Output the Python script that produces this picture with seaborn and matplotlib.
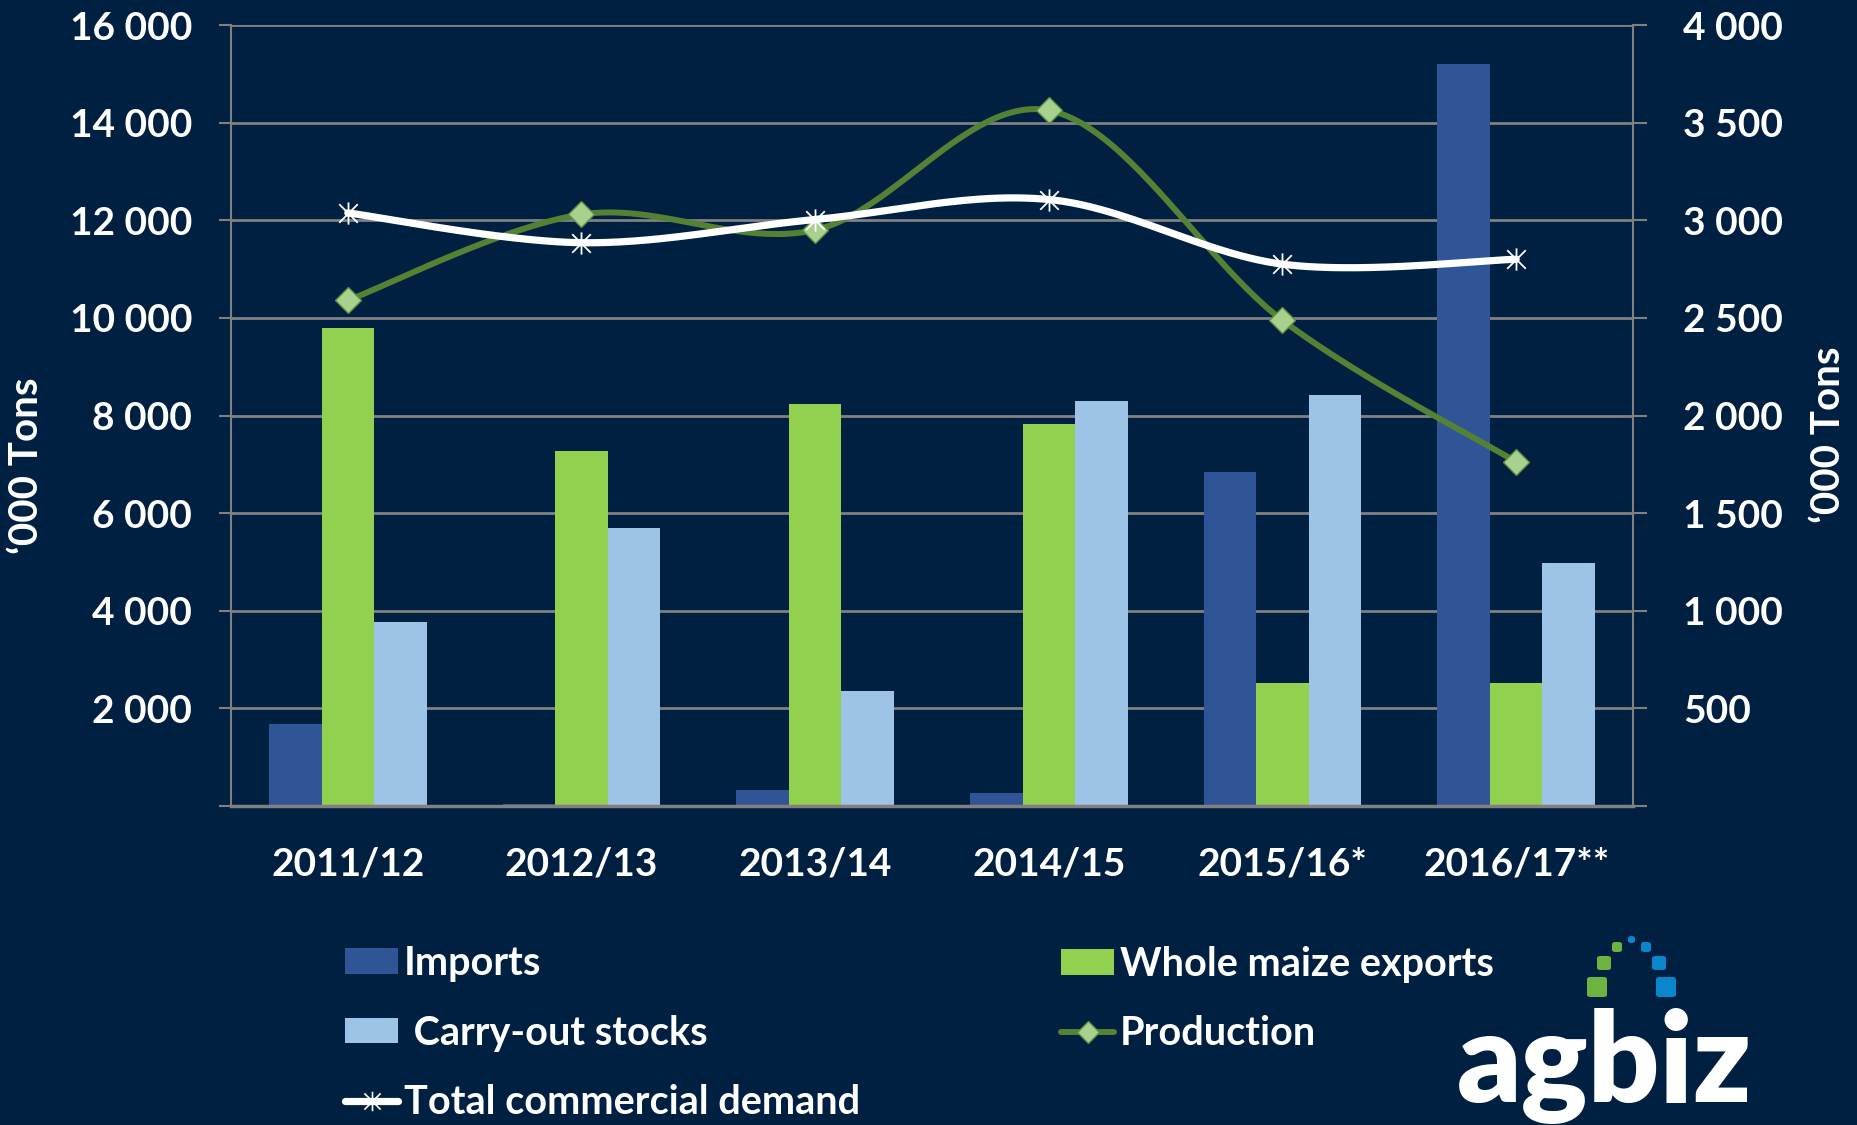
import numpy as np
import pandas as pd
import matplotlib
matplotlib.use("Agg")
import matplotlib.pyplot as plt
import seaborn as sns
from matplotlib.path import Path
from matplotlib.lines import Line2D
from matplotlib.patches import Patch, FancyBboxPatch
from matplotlib import font_manager

# ---------------- data ----------------
seasons = ["2011/12", "2012/13", "2013/14", "2014/15", "2015/16*", "2016/17**"]
imports = [420, 10, 80, 65, 1710, 3800]          # right axis ('000 t)
exports = [2446, 1818, 2061, 1957, 630, 630]     # right axis
stocks = [942, 1422, 589, 2074, 2104, 1243]      # right axis
production = [10360, 12120, 11800, 14250, 9950, 7050]   # left axis
demand = [12150, 11540, 12015, 12425, 11100, 11200]     # left axis
left_ticks = [0, 2000, 4000, 6000, 8000, 10000, 12000, 14000, 16000]
right_ticks = [0, 500, 1000, 1500, 2000, 2500, 3000, 3500, 4000]
bar_series = ["Imports", "Whole maize exports", " Carry-out stocks"]

# ---------------- style ----------------
BG = "#002042"
GRID = "#808080"
C_IMP, C_EXP, C_STK = "#2F5597", "#92D050", "#9DC3E6"
C_PROD, C_PROD_MK = "#548235", "#A9D18E"

sns.set_theme(style="white")
avail = {f.name for f in font_manager.fontManager.ttflist}
FONT = "DejaVu Sans"
for cand in ["Liberation Sans Narrow", "Lato", "Open Sans", "DejaVu Sans"]:
    if cand in avail:
        FONT = cand
        break
narrow = FONT == "Liberation Sans Narrow"
plt.rcParams["font.family"] = [FONT, "DejaVu Sans"]
plt.rcParams["font.weight"] = "bold"
FS = 30 if narrow else 28
FS_T = 30 if narrow else 29
FS_LEG = 30 if narrow else 28.5
FS_LOGO = 100 if narrow else 90

W, H = 1858, 1125
fig = plt.figure(figsize=(W / 100, H / 100), dpi=100, facecolor=BG)
axl = fig.add_axes([231 / W, 1 - 806 / H, (1633 - 231) / W, (806 - 25) / H])
axb = axl.twinx()
axl.set_zorder(2)
axb.set_zorder(1)
axl.patch.set_visible(False)
axb.patch.set_visible(False)

# ---------------- bars (right axis) ----------------
df = pd.DataFrame({
    "season": seasons * 3,
    "series": sum([[s] * len(seasons) for s in bar_series], []),
    "value": imports + exports + stocks,
})
sns.barplot(data=df, x="season", y="value", hue="series", hue_order=bar_series,
            palette=[C_IMP, C_EXP, C_STK], saturation=1, width=0.674, gap=0,
            linewidth=0, errorbar=None, legend=False, ax=axb)
axb.set_xlabel("")
axb.set_ylabel("")
axb.set_ylim(0, 4000)
axb.set_yticks(right_ticks)
axb.set_yticklabels(["" if v == 0 else f"{v:,}".replace(",", " ") for v in right_ticks])
axb.yaxis.grid(True, color=GRID, lw=2)
axb.xaxis.grid(False)
axb.set_axisbelow(True)
axb.tick_params(axis="y", direction="out", length=10, width=1.5, color=GRID,
                labelcolor="white", labelsize=FS, pad=26, right=True)
for s in ["left", "top", "bottom"]:
    axb.spines[s].set_visible(False)
axb.spines["right"].set_color(GRID)
axb.spines["right"].set_linewidth(1.5)


# ---------------- smooth lines (left axis) ----------------
def smooth(yvals, n=50):
    P = np.column_stack([np.arange(len(yvals), dtype=float), np.asarray(yvals, float)])
    out = []
    for i in range(len(P) - 1):
        p0 = P[i - 1] if i > 0 else P[i]
        p1, p2 = P[i], P[i + 1]
        p3 = P[i + 2] if i + 2 < len(P) else P[i + 1]
        c1 = p1 + (p2 - p0) / 6
        c2 = p2 - (p3 - p1) / 6
        t = np.linspace(0, 1, n)[:, None]
        seg = (1 - t) ** 3 * p1 + 3 * (1 - t) ** 2 * t * c1 + 3 * (1 - t) * t ** 2 * c2 + t ** 3 * p2
        out.append(seg if i == 0 else seg[1:])
    return np.vstack(out)


STAR = Path([(-1, -1), (1, 1), (-1, 1), (1, -1), (0, -1.2), (0, 1.2)],
            [Path.MOVETO, Path.LINETO, Path.MOVETO, Path.LINETO, Path.MOVETO, Path.LINETO])

xs = np.arange(len(seasons))
sp = smooth(production)
axl.plot(sp[:, 0], sp[:, 1], color=C_PROD, lw=4.3, solid_capstyle="round", zorder=3)
axl.plot(xs, production, ls="none", marker="D", ms=13, mfc=C_PROD_MK, mec="#5E8F3E",
         mew=1, zorder=4)
sd = smooth(demand)
axl.plot(sd[:, 0], sd[:, 1], color="white", lw=5.2, solid_capstyle="round", zorder=5)
axl.plot(xs, demand, ls="none", marker=STAR, ms=16, mfc="none", mec="white", mew=1.3,
         zorder=6)

axl.set_ylim(0, 16000)
axl.set_yticks(left_ticks)
axl.set_yticklabels(["" if v == 0 else f"{v:,}".replace(",", " ") for v in left_ticks])
axl.tick_params(axis="y", direction="out", length=9, width=1.5, color=GRID,
                labelcolor="white", labelsize=FS, pad=19, left=True)
axl.set_xlim(-0.5, len(seasons) - 0.5)
axl.set_xticks(np.arange(-0.5, len(seasons), 1.0))
axl.set_xticklabels([])
axl.set_xticks(xs, minor=True)
axl.set_xticklabels(seasons, minor=True)
axl.tick_params(axis="x", which="major", direction="out", length=10, width=1.5, color=GRID)
axl.tick_params(axis="x", which="minor", length=0, labelcolor="white", labelsize=FS, pad=29,
                bottom=True)
for s in ["top", "right"]:
    axl.spines[s].set_visible(False)
axl.spines["left"].set_color(GRID)
axl.spines["left"].set_linewidth(1.5)
axl.spines["bottom"].set_color(GRID)
axl.spines["bottom"].set_linewidth(2.5)

# axis titles
fig.text(27 / W, 1 - 466 / H, "\u2018000 Tons", rotation=90, ha="center", va="center",
         color="white", fontsize=FS_T, fontweight="bold")
fig.text(1829 / W, 1 - 435 / H, "\u2018000 Tons", rotation=90, ha="center", va="center",
         color="white", fontsize=FS_T, fontweight="bold")

# ---------------- legends ----------------
h_imp = Patch(facecolor=C_IMP, edgecolor="none")
h_exp = Patch(facecolor=C_EXP, edgecolor="none")
h_stk = Patch(facecolor=C_STK, edgecolor="none")
h_prod = Line2D([], [], color=C_PROD, lw=4.3, marker="D", ms=11, mfc=C_PROD_MK, mec="#5E8F3E")
h_dem = Line2D([], [], color="white", lw=5.2, marker=STAR, ms=14, mfc="none", mec="white", mew=1.2)
leg_kw = dict(frameon=False, borderpad=0, borderaxespad=0, handlelength=1.34,
              handleheight=0.62, handletextpad=0.15, labelspacing=0.82, labelcolor="white",
              prop={"size": FS_LEG, "weight": "bold"}, loc="center left")
leg1 = fig.legend([h_imp, h_stk, h_dem], ["Imports", " Carry-out stocks", "Total commercial demand"],
                  bbox_to_anchor=(345 / W, 1 - 1033 / H), **leg_kw)
leg2 = fig.legend([h_exp, h_prod], ["Whole maize exports", "Production"],
                  bbox_to_anchor=(1061 / W, 1 - 999 / H), **leg_kw)

# ---------------- agbiz logo ----------------
fig.text(1457 / W, 1 - 1102 / H, "agbiz", color="white", fontsize=FS_LOGO, fontweight="heavy",
         ha="left", va="baseline")
squares = [(1587, 977, 20, "#6DB33F"), (1597, 956, 14, "#6DB33F"), (1612, 942, 10, "#6DB33F"),
           (1628, 936, 7, "#0A86CC"), (1641, 942, 10, "#0A86CC"), (1652, 956, 14, "#0A86CC"),
           (1656, 977, 20, "#0A86CC")]
for x0, y0, s, c in squares:
    fig.patches.append(FancyBboxPatch((x0 / W, 1 - (y0 + s) / H), s / W, s / H,
                                      boxstyle="round,pad=0,rounding_size=0.002",
                                      transform=fig.transFigure, facecolor=c, edgecolor="none"))

fig.savefig("out.png", dpi=100, facecolor=BG)
